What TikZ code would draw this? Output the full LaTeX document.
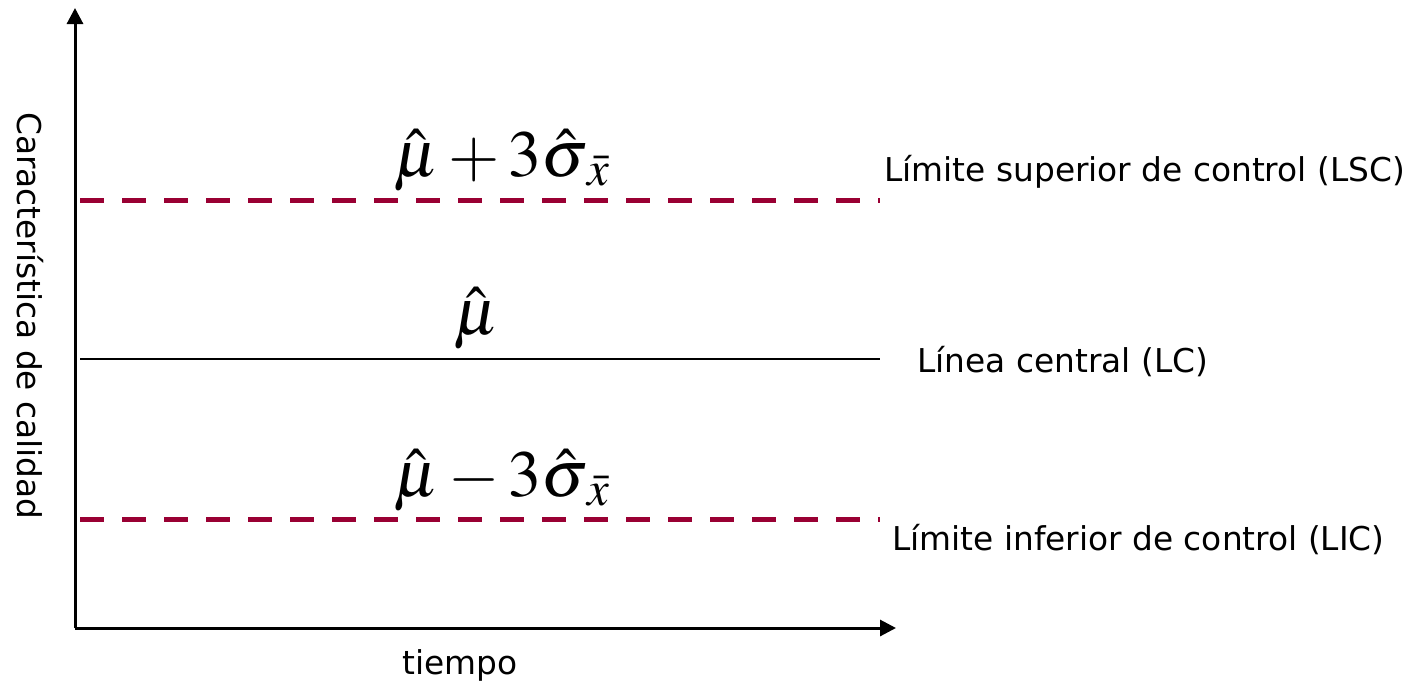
\documentclass[tikz,border=0pt]{standalone}
\usepackage{mathptmx}
\usepackage{fontspec}
\setmainfont{DejaVu Sans}
\usetikzlibrary{arrows.meta}
\definecolor{limred}{HTML}{990033}
\begin{document}
\begin{tikzpicture}[x=0.5pt,y=-0.5pt,
  axis/.style={line width=1.5pt,-{Triangle[length=8pt,width=8pt]}},
  limline/.style={line width=2.5pt,limred,dash pattern=on 12pt off 9pt},
  centline/.style={line width=0.9pt},
  lbl/.style={font=\fontsize{16.4}{19}\selectfont,inner sep=0pt},
  formula/.style={font=\fontsize{33}{40}\selectfont,inner sep=0pt}]
\useasboundingbox (0,0) rectangle (1412,685);
\coordinate (o) at (75,628);
\coordinate (ytop) at (75,8);
\coordinate (xend) at (896,628);
\draw[axis] (o) -- (ytop);
\draw[axis] (o) -- (xend);
\coordinate (lscA) at (80,200); \coordinate (lscB) at (880,200);
\coordinate (lcA) at (80,359); \coordinate (lcB) at (880,359);
\coordinate (licA) at (80,519); \coordinate (licB) at (880,519);
\draw[limline] (lscA) -- (lscB);
\draw[centline] (lcA) -- (lcB);
\draw[limline] (licA) -- (licB);
\node[formula] (fu) at (502,160) {$\hat{\mu}+3\hat{\sigma}_{\,\bar{x}}$};
\node[formula] (fc) at (476,318) {$\hat{\mu}$};
\node[formula] (fl) at (502,480) {$\hat{\mu}-3\hat{\sigma}_{\,\bar{x}}$};
\node[lbl,anchor=west] (tlsc) at (884,172) {Límite superior de control (LSC)};
\node[lbl,anchor=west] (tlc) at (917,362) {Línea central (LC)};
\node[lbl,anchor=west] (tlic) at (892,540) {Límite inferior de control (LIC)};
\node[lbl] (tx) at (460,665) {tiempo};
\node[lbl,rotate=-90] (ty) at (30,316) {Característica de calidad};
\end{tikzpicture}
\end{document}
